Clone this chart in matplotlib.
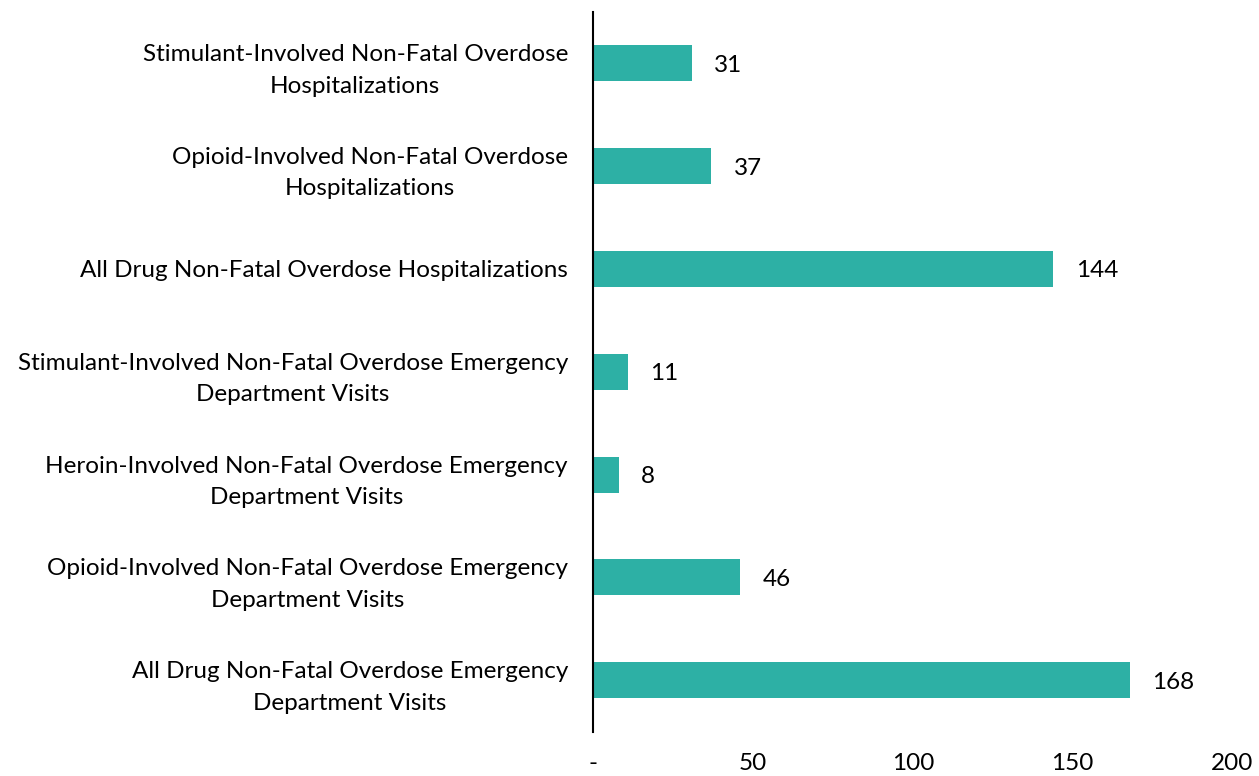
import matplotlib
matplotlib.use("Agg")
import matplotlib.pyplot as plt

categories = [
    "Stimulant-Involved Non-Fatal Overdose\nHospitalizations",
    "Opioid-Involved Non-Fatal Overdose\nHospitalizations",
    "All Drug Non-Fatal Overdose Hospitalizations",
    "Stimulant-Involved Non-Fatal Overdose Emergency\nDepartment Visits",
    "Heroin-Involved Non-Fatal Overdose Emergency\nDepartment Visits",
    "Opioid-Involved Non-Fatal Overdose Emergency\nDepartment Visits",
    "All Drug Non-Fatal Overdose Emergency\nDepartment Visits",
]
values = [31, 37, 144, 11, 8, 46, 168]
xticks = [0, 50, 100, 150, 200]
xtick_labels = ["-", "50", "100", "150", "200"]

plt.rcParams['font.family'] = ['Lato', 'DejaVu Sans']
BAR = '#2DB0A5'
FS = 17.5

fig = plt.figure(figsize=(12.59, 7.76), dpi=100)
ax = fig.add_axes([0.471, 0.057, 0.508, 0.928])

ypos = list(range(len(categories)))
ax.barh(ypos, values, height=0.35, color=BAR)
ax.set_ylim(len(categories) - 0.5, -0.5)
ax.set_xlim(0, 200)

for y, v in zip(ypos, values):
    ax.annotate(str(v), xy=(v, y), xytext=(16, -1.5), textcoords='offset points',
                ha='left', va='center', fontsize=FS, color='#000000')

ax.set_yticks(ypos)
ax.set_yticklabels(categories, fontsize=FS)
for t in ax.get_yticklabels():
    t.set_multialignment('center')
    t.set_linespacing(1.62)
ax.tick_params(axis='y', length=0, pad=18)

ax.set_xticks(xticks)
ax.set_xticklabels(xtick_labels, fontsize=FS)
ax.tick_params(axis='x', length=0, pad=15)

for s in ['top', 'right', 'bottom']:
    ax.spines[s].set_visible(False)
ax.spines['left'].set_linewidth(1.5)
ax.spines['left'].set_color('black')

fig.savefig('out.png', dpi=100)
